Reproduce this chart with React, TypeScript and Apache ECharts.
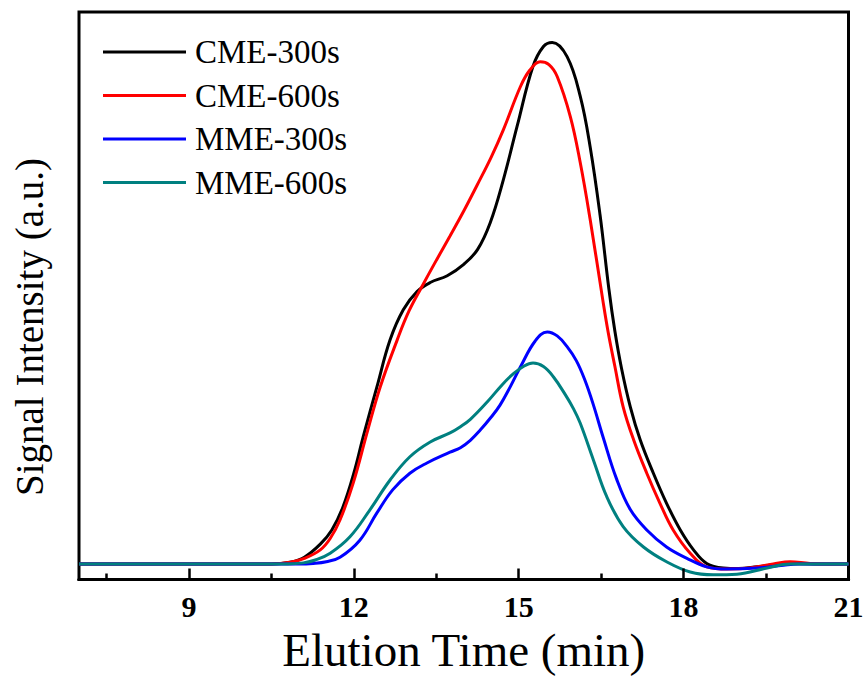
import React, { useEffect, useRef } from "react";
import * as echarts from "echarts";

const seriesNames = ["CME-300s", "CME-600s", "MME-300s", "MME-600s"];
const seriesColors = ["#000000", "#ff0000", "#0000ff", "#008080"];

const majorTicks = [9, 12, 15, 18, 21];
const minorTicks = [7.5, 10.5, 13.5, 16.5, 19.5];

const cme300X = [7, 8, 9, 10, 10.5, 10.84, 11.1, 11.39, 11.6, 11.8, 12.0, 12.17, 12.42, 12.66, 12.9, 13.15, 13.39, 13.7, 14.0, 14.25, 14.48, 14.72, 14.97, 15.26, 15.45, 15.61, 15.88, 16.12, 16.3, 16.48, 16.64, 16.75, 16.87, 17.03, 17.21, 17.45, 17.69, 17.94, 18.18, 18.42, 18.72, 19.0, 19.34, 19.94, 20.5, 21];
const cme300Y = [0, 0, 0, 0, 0, 0.3, 1.2, 3.5, 6.0, 10.0, 16.0, 22.4, 31.2, 39.5, 44.8, 48.0, 49.6, 50.8, 52.8, 55.4, 60.1, 67.7, 77.1, 87.7, 91.2, 91.9, 89.4, 82.4, 73.5, 61.5, 48.5, 41.0, 34.5, 27.7, 21.9, 16.0, 10.7, 6.0, 2.5, 0.1, -0.7, -0.8, -0.5, 0.1, 0, 0];

const cme600X = [7, 8, 9, 10, 10.5, 10.84, 11.1, 11.39, 11.57, 11.75, 11.99, 12.24, 12.48, 12.79, 13.0, 13.24, 13.5, 13.75, 14.0, 14.24, 14.5, 14.72, 15.03, 15.2, 15.39, 15.55, 15.7, 15.94, 16.12, 16.3, 16.53, 16.63, 16.75, 16.9, 17.09, 17.33, 17.57, 17.81, 18.12, 18.42, 18.8, 19.2, 19.63, 19.94, 20.3, 21];
const cme600Y = [0, 0, 0, 0, 0, 0.3, 1.0, 2.5, 4.5, 7.8, 14.3, 23.1, 31.2, 39.5, 44.5, 48.9, 53.5, 57.8, 62.2, 66.7, 71.7, 76.5, 84.1, 87.0, 88.5, 88.0, 85.9, 78.8, 70.7, 60.7, 46.5, 40.7, 34.8, 27.7, 21.9, 16.0, 10.7, 6.0, 1.9, -0.5, -0.9, -0.7, 0, 0.4, 0.1, 0];

const mme300X = [7, 8, 9, 10, 11.0, 11.26, 11.5, 11.75, 12.11, 12.42, 12.71, 13.02, 13.33, 13.75, 13.94, 14.12, 14.3, 14.5, 14.66, 14.85, 15.03, 15.3, 15.52, 15.7, 15.88, 16.05, 16.2, 16.35, 16.54, 16.78, 17.03, 17.33, 17.69, 18.06, 18.42, 18.78, 19.34, 19.82, 20.1, 21];
const mme300Y = [0, 0, 0, 0, 0, 0.1, 0.4, 1.2, 4.2, 9.0, 13.1, 16.0, 17.8, 19.7, 20.5, 21.8, 23.6, 25.9, 28.0, 31.3, 34.7, 39.3, 40.9, 40.2, 38.3, 35.8, 32.5, 28.3, 22.2, 15.0, 9.6, 6.0, 3.0, 1.0, -0.5, -0.9, -0.7, -0.2, 0, 0];

const mme600X = [7, 8, 9, 10, 10.8, 11.08, 11.3, 11.57, 11.93, 12.29, 12.66, 13.02, 13.39, 13.75, 13.94, 14.12, 14.43, 14.7, 14.9, 15.1, 15.26, 15.45, 15.63, 15.85, 16.0, 16.12, 16.36, 16.6, 16.9, 17.27, 17.69, 18.12, 18.54, 18.97, 19.52, 19.94, 21];
const mme600Y = [0, 0, 0, 0, 0, 0.2, 0.7, 1.9, 4.8, 9.5, 14.8, 18.9, 21.5, 23.1, 24.2, 25.5, 28.6, 31.6, 33.5, 34.9, 35.4, 34.8, 33.0, 29.8, 27.3, 24.8, 18.3, 11.9, 6.6, 3.0, 0.4, -1.4, -1.9, -1.8, -0.7, 0, 0];

const seriesX = [cme300X, cme600X, mme300X, mme600X];
const seriesY = [cme300Y, cme600Y, mme300Y, mme600Y];

const FONT = "'Liberation Serif', 'Times New Roman', serif";

export default function App() {
  const ref = useRef<HTMLDivElement>(null);
  useEffect(() => {
    if (!ref.current) return;
    const chart = echarts.init(ref.current, undefined, { renderer: "svg" });
    const series = seriesNames.map((name, i) => ({
      name,
      type: "line",
      xAxisIndex: 0,
      yAxisIndex: 0,
      data: seriesX[i].map((x, j) => [x, seriesY[i][j]]),
      smooth: 0.4,
      showSymbol: false,
      symbol: "none",
      lineStyle: { color: seriesColors[i], width: 3 },
      itemStyle: { color: seriesColors[i] },
    }));
    chart.setOption({
      animation: false,
      backgroundColor: "#ffffff",
      grid: {
        left: 79,
        right: 19.5,
        top: 12,
        bottom: 106.5,
        show: true,
        borderColor: "#000",
        borderWidth: 3,
        backgroundColor: "transparent",
      },
      legend: {
        orient: "vertical",
        left: 103,
        top: 34,
        padding: 0,
        icon: "rect",
        itemWidth: 83,
        itemHeight: 3,
        itemGap: 7.5,
        textStyle: {
          fontFamily: FONT,
          fontSize: 33,
          color: "#000",
          lineHeight: 36,
          padding: [0, 0, 0, 4],
        },
        data: seriesNames,
      },
      xAxis: [
        {
          type: "value",
          min: 7,
          max: 21,
          position: "bottom",
          name: "Elution Time (min)",
          nameLocation: "middle",
          nameGap: 35,
          nameTextStyle: { fontFamily: FONT, fontSize: 47, color: "#000" },
          axisLine: { show: true, onZero: false, lineStyle: { color: "#000", width: 3 } },
          splitLine: { show: false },
          axisTick: {
            show: true,
            inside: true,
            length: 11,
            customValues: majorTicks,
            lineStyle: { color: "#000", width: 2.5 },
          },
          axisLabel: {
            show: true,
            customValues: majorTicks,
            margin: 12,
            fontFamily: FONT,
            fontWeight: "bold",
            fontSize: 30,
            color: "#000",
            showMinLabel: true,
            showMaxLabel: true,
          },
          z: 10,
        },
        {
          type: "value",
          min: 7,
          max: 21,
          position: "bottom",
          offset: 0,
          axisLine: { show: true, onZero: false, lineStyle: { color: "#000", width: 3 } },
          splitLine: { show: false },
          axisLabel: { show: false },
          axisTick: {
            show: true,
            inside: true,
            length: 6,
            customValues: minorTicks,
            lineStyle: { color: "#000", width: 2.5 },
          },
          z: 10,
        },
      ],
      yAxis: {
        type: "value",
        min: -2.73,
        max: 97.27,
        axisLine: { show: false },
        axisTick: { show: false },
        axisLabel: { show: false },
        splitLine: { show: false },
      },
      graphic: [
        {
          type: "text",
          x: 29,
          y: 327,
          rotation: Math.PI / 2,
          style: {
            text: "Signal Intensity (a.u.)",
            fontFamily: FONT,
            fontSize: 39,
            fill: "#000",
            align: "center",
            verticalAlign: "middle",
          },
        },
      ],
      series,
    });
    return () => chart.dispose();
  }, []);
  return (
    <div
      ref={ref}
      style={{ position: "fixed", left: 0, top: 0, width: 868, height: 686, background: "#fff" }}
    />
  );
}
